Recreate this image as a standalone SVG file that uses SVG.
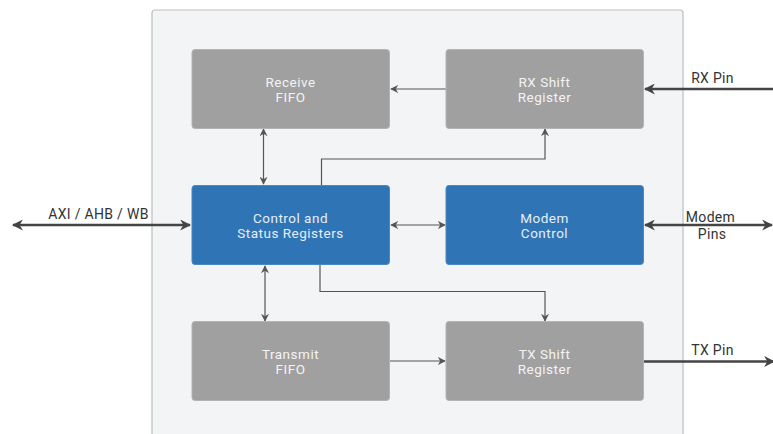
<svg xmlns="http://www.w3.org/2000/svg" width="773" height="434" viewBox="0 0 773 434">
<defs>
<marker id="a" viewBox="0 0 10 10" refX="9" refY="5" markerWidth="8" markerHeight="8" markerUnits="userSpaceOnUse" orient="auto-start-reverse">
<path d="M0,0 L10,5 L0,10 L3,5 z" fill="#555"/>
</marker>
<marker id="b" viewBox="0 0 10 10" refX="9" refY="5" markerWidth="11" markerHeight="11" markerUnits="userSpaceOnUse" orient="auto-start-reverse">
<path d="M0,0 L10,5 L0,10 L3,5 z" fill="#444"/>
</marker>
</defs>
<style>
.gray{fill:#a0a0a0;stroke:#b4b4b4;stroke-width:1}
.blue{fill:#2f75b6;stroke:#4a88c2;stroke-width:1}
.t{font-family:Roboto,"Liberation Sans",sans-serif;font-size:13.5px;letter-spacing:0.5px;text-anchor:middle}
.tg{fill:#f4f4f4}
.tb{fill:#e6eef7}
.lbl{font-family:Roboto,"Liberation Sans",sans-serif;font-size:14px;letter-spacing:0.3px;fill:#333}
.c{stroke:#555;stroke-width:1.2;fill:none}
.o{stroke:#444;stroke-width:2.5;fill:none}
</style>
<rect width="773" height="434" fill="#ffffff"/>
<rect id="container" x="152" y="10" width="531" height="440" rx="3" fill="#f3f4f6" stroke="#bdbdbd" stroke-width="1.2"/>
<g id="connectors">
<line class="c" x1="446" y1="89" x2="391" y2="89" marker-end="url(#a)"/>
<line class="c" x1="263.5" y1="129" x2="263.5" y2="184" marker-start="url(#a)" marker-end="url(#a)"/>
<line class="c" x1="265" y1="266" x2="265" y2="321" marker-start="url(#a)" marker-end="url(#a)"/>
<line class="c" x1="391" y1="225" x2="445" y2="225" marker-start="url(#a)" marker-end="url(#a)"/>
<line class="c" x1="390" y1="361" x2="445" y2="361" marker-end="url(#a)"/>
<polyline class="c" points="321.5,185 321.5,159 545,159 545,129" marker-end="url(#a)"/>
<polyline class="c" points="320,265 320,291.5 545,291.5 545,321" marker-end="url(#a)"/>
<line class="o" x1="13" y1="225" x2="190" y2="225" marker-start="url(#b)" marker-end="url(#b)"/>
<line class="o" x1="773" y1="89" x2="645" y2="89" marker-end="url(#b)"/>
<line class="o" x1="645" y1="225" x2="772" y2="225" marker-start="url(#b)" marker-end="url(#b)"/>
<line class="o" x1="644" y1="361.5" x2="774" y2="361.5" marker-end="url(#b)"/>
</g>
<g id="receive-fifo">
<rect class="gray" x="192" y="49.5" width="197.5" height="79" rx="3"/>
<text class="t tg" x="290.5" y="86.5">Receive</text>
<text class="t tg" x="290.5" y="101.5">FIFO</text>
</g>
<g id="rx-shift">
<rect class="gray" x="446" y="49.5" width="197.5" height="79" rx="3"/>
<text class="t tg" x="544.5" y="86.5">RX Shift</text>
<text class="t tg" x="544.5" y="101.5">Register</text>
</g>
<g id="control-status">
<rect class="blue" x="192" y="185.5" width="197.5" height="79" rx="3"/>
<text class="t tb" x="290.5" y="222.5">Control and</text>
<text class="t tb" x="290.5" y="237.5">Status Registers</text>
</g>
<g id="modem-control">
<rect class="blue" x="446" y="185.5" width="197.5" height="79" rx="3"/>
<text class="t tb" x="544.5" y="222.5">Modem</text>
<text class="t tb" x="544.5" y="237.5">Control</text>
</g>
<g id="transmit-fifo">
<rect class="gray" x="192" y="321.5" width="197.5" height="79" rx="3"/>
<text class="t tg" x="290.5" y="358.5">Transmit</text>
<text class="t tg" x="290.5" y="373.5">FIFO</text>
</g>
<g id="tx-shift">
<rect class="gray" x="446" y="321.5" width="197.5" height="79" rx="3"/>
<text class="t tg" x="544.5" y="358.5">TX Shift</text>
<text class="t tg" x="544.5" y="373.5">Register</text>
</g>
<g id="labels">
<text class="lbl" x="98.5" y="219" text-anchor="middle">AXI / AHB / WB</text>
<text class="lbl" x="712.5" y="83" text-anchor="middle">RX Pin</text>
<text class="lbl" x="710.5" y="221.5" text-anchor="middle">Modem</text>
<text class="lbl" x="712" y="238.5" text-anchor="middle">Pins</text>
<text class="lbl" x="712.5" y="355" text-anchor="middle">TX Pin</text>
</g>
</svg>
